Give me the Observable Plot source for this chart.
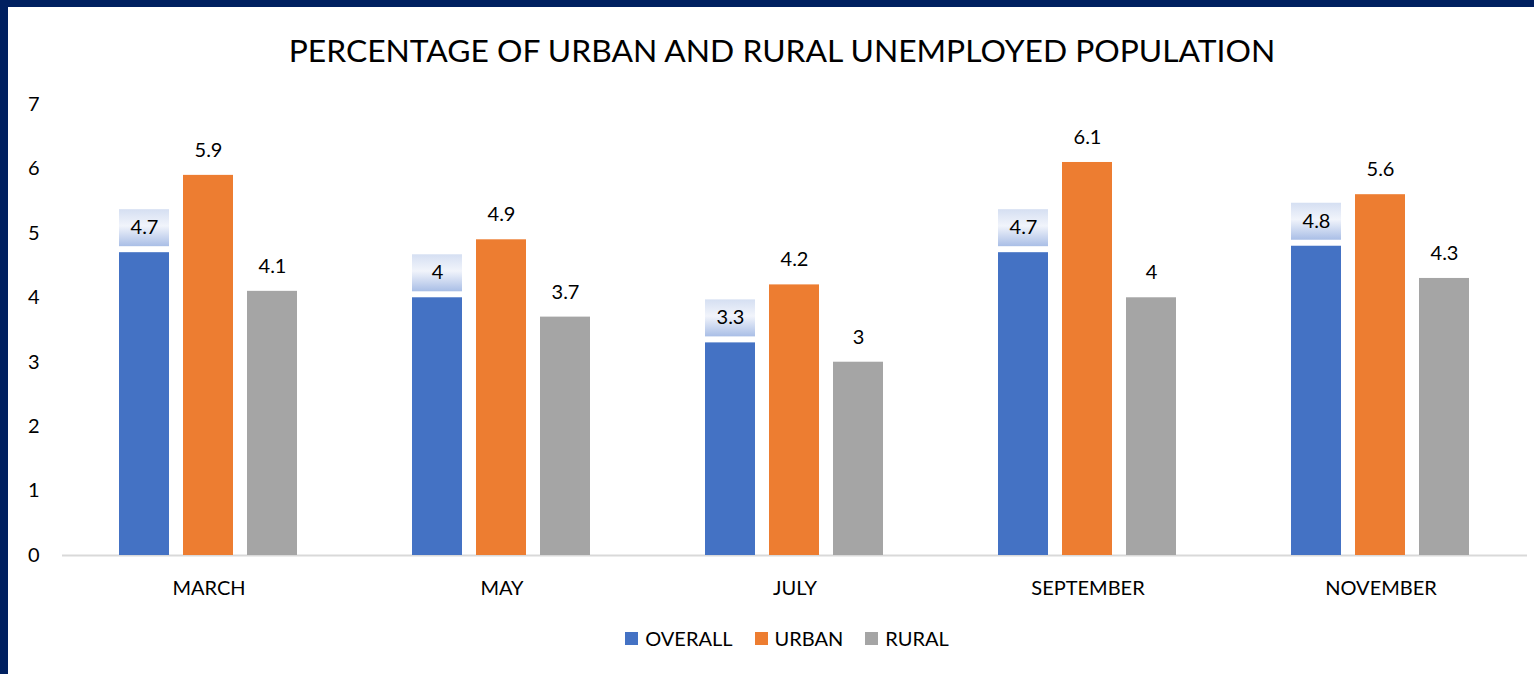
<!DOCTYPE html>
<html>
<head>
<meta charset="utf-8">
<script src="https://cdn.jsdelivr.net/npm/d3@7"></script>
<script src="https://cdn.jsdelivr.net/npm/@observablehq/plot@0.6"></script>
<style>
  html, body { margin: 0; padding: 0; background: #ffffff; }
  body { width: 1534px; height: 674px; position: relative; overflow: hidden; font-family: Lato, "Open Sans", sans-serif; }
  .bl { position: absolute; left: 0; top: 0; width: 8px; height: 674px; background: #002060; z-index: 5; }
  .bt { position: absolute; left: 0; top: 0; width: 1534px; height: 7px; background: #002060; z-index: 5; }
  #title { position: absolute; left: 282px; width: 1000px; top: 30px; text-align: center; font-size: 31.8px; color: #000; line-height: 40px; white-space: nowrap; }
  #chart { position: absolute; left: 0; top: 0; }
  #legend { position: absolute; left: 0; width: 1574px; top: 626px; display: flex; justify-content: center; gap: 22px; font-size: 20px; color: #000; line-height: 24px; }
  #legend .item { display: flex; align-items: center; gap: 7px; }
  #legend .sw { width: 13px; height: 13px; display: inline-block; }
</style>
</head>
<body>
<div class="bl"></div>
<div class="bt"></div>
<div id="title"></div>
<div id="chart"></div>
<div id="legend"></div>
<script>
const titleText = "PERCENTAGE OF URBAN AND RURAL UNEMPLOYED POPULATION";
const months = ["MARCH", "MAY", "JULY", "SEPTEMBER", "NOVEMBER"];
const seriesNames = ["OVERALL", "URBAN", "RURAL"];
const seriesColors = ["#4472C4", "#ED7D31", "#A5A5A5"];
const overall = [4.7, 4, 3.3, 4.7, 4.8];
const urban = [5.9, 4.9, 4.2, 6.1, 5.6];
const rural = [4.1, 3.7, 3, 4, 4.3];
const yTicks = [0, 1, 2, 3, 4, 5, 6, 7];

document.getElementById("title").textContent = titleText;

const seriesValues = [overall, urban, rural];
const data = [];
months.forEach((m, i) => {
  seriesNames.forEach((s, j) => {
    data.push({month: m, series: s, value: seriesValues[j][i]});
  });
});
const overallData = data.filter(d => d.series === "OVERALL");

const defs = () => {
  const svg = d3.create("svg:defs");
  const g = svg.append("linearGradient").attr("id", "lblgrad").attr("x1", 0).attr("y1", 0).attr("x2", 0).attr("y2", 1);
  g.append("stop").attr("offset", "0%").attr("stop-color", "#d5dff2");
  g.append("stop").attr("offset", "45%").attr("stop-color", "#f1f4fb");
  g.append("stop").attr("offset", "100%").attr("stop-color", "#a9bee6");
  return svg.node();
};

const chart = Plot.plot({
  width: 1534,
  height: 600,
  marginTop: 104,
  marginBottom: 45,
  marginLeft: 61,
  marginRight: 7,
  style: {fontSize: "20px", fontFamily: "Lato, 'Open Sans', sans-serif", color: "#000", background: "transparent"},
  fx: {domain: months, paddingInner: 0, paddingOuter: 0, label: null, tickSize: 0, tickPadding: 25},
  x: {domain: seriesNames, paddingInner: 0.215, paddingOuter: 0.863, axis: null},
  y: {domain: [0, 7], ticks: yTicks, tickFormat: d => String(d), tickSize: 0, tickPadding: 23, label: null},
  color: {domain: seriesNames, range: seriesColors},
  marks: [
    defs,
    Plot.ruleY([0], {stroke: "#d9d9d9", strokeWidth: 2}),
    Plot.barY(data, {fx: "month", x: "series", y: "value", fill: "series"}),
    Plot.barY(overallData, {fx: "month", x: "series", y1: "value", y2: "value", insetTop: -37, dy: -6, fill: "url(#lblgrad)"}),
    Plot.text(data, {fx: "month", x: "series", y: "value", text: d => String(d.value), dy: -25, lineAnchor: "middle", fill: "#000"})
  ]
});
document.getElementById("chart").appendChild(chart);

const legend = document.getElementById("legend");
seriesNames.forEach((s, i) => {
  const item = document.createElement("div");
  item.className = "item";
  const sw = document.createElement("span");
  sw.className = "sw";
  sw.style.background = seriesColors[i];
  const t = document.createElement("span");
  t.textContent = s;
  item.appendChild(sw);
  item.appendChild(t);
  legend.appendChild(item);
});
</script>
</body>
</html>
